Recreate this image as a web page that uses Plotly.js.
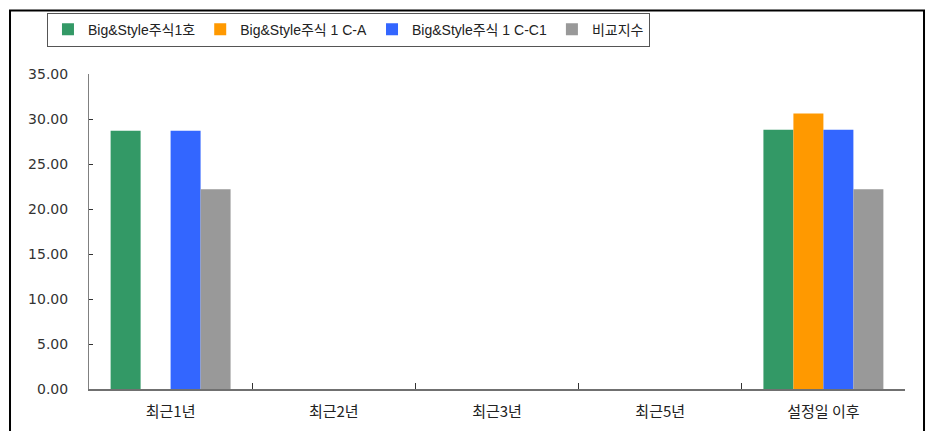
<!DOCTYPE html>
<html><head><meta charset="utf-8">
<script src="https://cdn.plot.ly/plotly-3.0.1.min.js"></script>
<style>html,body{margin:0;padding:0;background:#fff;}#chart{width:931px;height:431px;}</style>
</head><body><div id="chart"></div>
<script>
const categories = ['최근1년', '최근2년', '최근3년', '최근5년', '설정일 이후'];
const seriesNames = ['Big&Style주식1호', 'Big&Style주식 1 C-A', 'Big&Style주식 1 C-C1', '비교지수'];
const fund1 = [28.7, null, null, null, 28.8];
const fundCA = [null, null, null, null, 30.6];
const fundCC1 = [28.7, null, null, null, 28.8];
const benchmark = [22.2, null, null, null, 22.2];
const colors = ['#339966', '#FF9900', '#3366FF', '#999999'];

const values = [fund1, fundCA, fundCC1, benchmark];
const traces = values.map((v, i) => ({
  type: 'bar', x: categories, y: v, name: seriesNames[i],
  marker: {color: colors[i], line: {width: 0}}, hoverinfo: 'none'
}));

const font = '"Liberation Sans", "Noto Sans CJK KR", sans-serif';
const layout = {
  width: 931, height: 431,
  margin: {l: 89, r: 26, t: 72, b: 42},
  barmode: 'group', bargap: 0.265, bargroupgap: 0,
  paper_bgcolor: '#fff', plot_bgcolor: '#fff',
  font: {family: font, color: '#222'},
  xaxis: {
    type: 'category', showline: true, linecolor: '#707070', linewidth: 2,
    ticks: 'inside', tickson: 'boundaries', ticklen: 6, tickcolor: '#333', tickwidth: 1,
    showgrid: false, zeroline: false, ticklabelstandoff: 8,
    tickfont: {size: 15, color: '#222', family: '"Noto Sans CJK KR", sans-serif'}
  },
  yaxis: {
    range: [0, 35], dtick: 5, tickformat: '.2f', showline: true, linecolor: '#808080', linewidth: 1,
    ticks: 'inside', ticklen: 4, tickcolor: '#333', showgrid: false, zeroline: false,
    tickfont: {size: 14, color: '#333', family: '"DejaVu Sans", sans-serif'}, ticklabelstandoff: 17
  },
  showlegend: true,
  legend: {
    orientation: 'h', x: -0.0515, y: 1.195, xanchor: 'left', yanchor: 'top',
    bordercolor: '#555', borderwidth: 1, bgcolor: '#fff',
    font: {size: 14, color: '#222', family: font}, itemwidth: 30, tracegroupgap: 0
  },
  shapes: [
    {type: 'rect', xref: 'paper', yref: 'paper', x0: -0.0968, x1: 1.0233, y0: -0.2, y1: 1.2019,
     line: {color: '#000', width: 2}, fillcolor: 'rgba(0,0,0,0)', layer: 'below'}
  ]
};
Plotly.newPlot('chart', traces, layout, {displayModeBar: false, staticPlot: true});
</script></body></html>
